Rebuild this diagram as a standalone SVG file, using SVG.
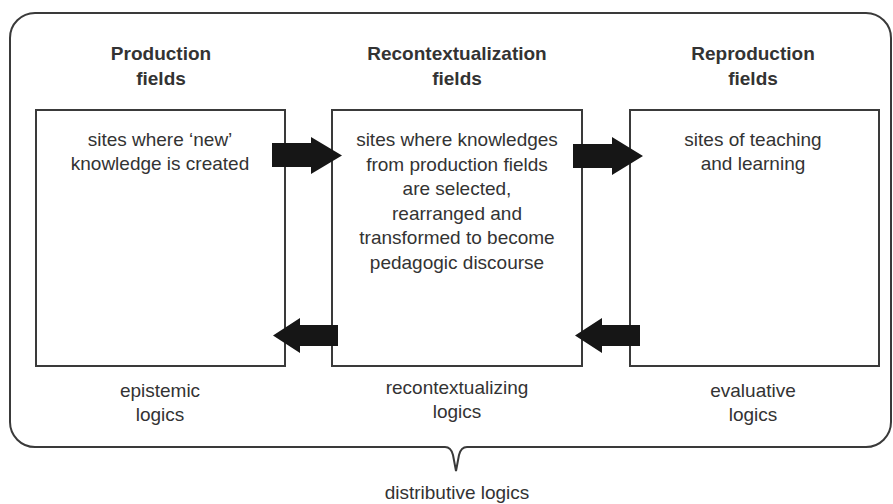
<svg xmlns="http://www.w3.org/2000/svg" width="893" height="504" viewBox="0 0 893 504">
<style>
.box{fill:#fff;stroke:#3a3a3a;stroke-width:2}
.frame{fill:none;stroke:#3a3a3a;stroke-width:2}
.t{font-family:"Liberation Sans",Arial,sans-serif;font-size:19px;fill:#333;text-anchor:middle}
.h{font-weight:bold}
.arr{fill:#161616}
</style>
<rect width="893" height="504" fill="#fff"/>
<g id="frame">
<path class="frame" d="M35 13 H866 A25 25 0 0 1 891 38 V422 A25 25 0 0 1 866 447 H467 Q461 447 459 455 L456 471 L453 455 Q451 447 445 447 H35 A25 25 0 0 1 10 422 V38 A25 25 0 0 1 35 13 Z"/>
<text class="t" x="457" y="499">distributive logics</text>
</g>
<g id="production">
<text class="t h" x="161" y="60">Production</text>
<text class="t h" x="161" y="85">fields</text>
<rect class="box" x="36" y="110" width="249" height="256"/>
<text class="t" x="160" y="146">sites where ‘new’</text>
<text class="t" x="160" y="170">knowledge is created</text>
<text class="t" x="160" y="397">epistemic</text>
<text class="t" x="160" y="421">logics</text>
</g>
<g id="recontextualization">
<text class="t h" x="457" y="60">Recontextualization</text>
<text class="t h" x="457" y="85">fields</text>
<rect class="box" x="332" y="110" width="250" height="256"/>
<text class="t" x="457" y="146">sites where knowledges</text>
<text class="t" x="457" y="170.5">from production fields</text>
<text class="t" x="457" y="195">are selected,</text>
<text class="t" x="457" y="219.5">rearranged and</text>
<text class="t" x="457" y="244">transformed to become</text>
<text class="t" x="457" y="268.5">pedagogic discourse</text>
<text class="t" x="457" y="394">recontextualizing</text>
<text class="t" x="457" y="418">logics</text>
</g>
<g id="reproduction">
<text class="t h" x="753" y="60">Reproduction</text>
<text class="t h" x="753" y="85">fields</text>
<rect class="box" x="630" y="110" width="249" height="256"/>
<text class="t" x="753" y="146">sites of teaching</text>
<text class="t" x="753" y="170">and learning</text>
<text class="t" x="753" y="397">evaluative</text>
<text class="t" x="753" y="421">logics</text>
</g>
<g id="connectors">
<polygon class="arr" points="272,143 311,143 311,137 342,155.5 311,174 311,167 272,167"/>
<polygon class="arr" points="573,144 612,144 612,137 643,156 612,175 612,168 573,168"/>
<polygon class="arr" points="338,325 300,325 300,318 273,335.5 300,353 300,346 338,346"/>
<polygon class="arr" points="640,325 602,325 602,318 575,335.5 602,353 602,346 640,346"/>
</g>
</svg>
